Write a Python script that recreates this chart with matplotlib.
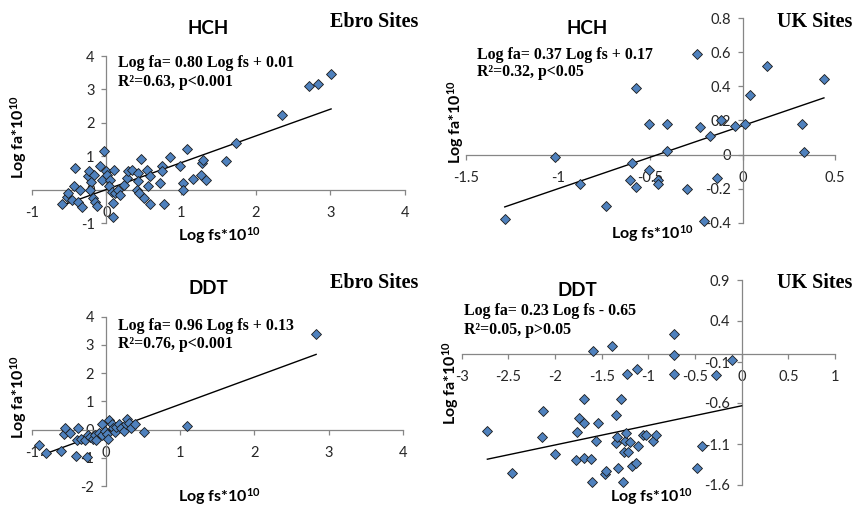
import matplotlib
matplotlib.use("Agg")
import matplotlib.pyplot as plt
import numpy as np

plt.rcParams["mathtext.fontset"] = "custom"
plt.rcParams["mathtext.rm"] = "Lato:bold"
plt.rcParams["mathtext.bf"] = "Lato:bold"
plt.rcParams["mathtext.it"] = "Lato:bold"

# ---------------- data ----------------
hch_ebro_x = [-0.60, -0.53, -0.51, -0.42, -0.44, -0.46, -0.35, -0.38, -0.33, -0.25, -0.23, -0.17,
              -0.20, -0.22, -0.18, -0.15, -0.13, -0.08, -0.06, -0.03, 0.00, 0.01, 0.05, 0.04, 0.07,
              0.09, 0.10, 0.09, 0.12, 0.16, 0.18, 0.23, 0.27, 0.29, 0.34, 0.42, 0.43, 0.41, 0.44,
              0.47, 0.50, 0.54, 0.56, 0.58, 0.58, 0.72, 0.74, 0.75, 0.77, 0.85, 0.99, 1.02, 1.02,
              1.08, 1.16, 1.27, 1.28, 1.29, 1.33, 1.60, 1.74, 2.35, 2.71, 2.83, 3.01]
hch_ebro_y = [-0.42, -0.22, -0.10, 0.65, 0.10, -0.30, 0.00, -0.35, -0.52, 0.40, 0.55, 0.45,
              0.22, 0.00, -0.25, -0.35, -0.48, 0.70, 0.30, 1.17, 0.55, 0.45, 0.30, 0.10, -0.05,
              -0.40, 0.60, -0.82, -0.10, 0.00, -0.15, 0.15, 0.35, 0.55, 0.60, 0.50, 0.25, 0.00, -0.10,
              0.92, -0.25, 0.60, 0.10, 0.40, -0.42, 0.20, 0.70, 0.55, -0.42, 0.98, 0.70, 0.20, 0.00,
              1.22, 0.33, 0.43, 0.80, 0.88, 0.30, 0.85, 1.41, 2.24, 3.10, 3.16, 3.46]

hch_uk_x = [-1.29, -1.02, -0.88, -0.74, -0.61, -0.60, -0.58, -0.58, -0.51, -0.51, -0.46, -0.46,
            -0.41, -0.41, -0.30, -0.25, -0.23, -0.21, -0.18, -0.14, -0.12, -0.04, 0.01, 0.04,
            0.13, 0.32, 0.33, 0.44]
hch_uk_y = [-0.38, -0.014, -0.175, -0.30, -0.15, -0.05, 0.39, -0.19, 0.18, -0.09, -0.15, -0.17,
            0.18, 0.02, -0.20, 0.59, 0.16, -0.39, 0.11, -0.14, 0.20, 0.17, 0.18, 0.35,
            0.52, 0.18, 0.016, 0.445]

ddt_ebro_x = [-0.90, -0.81, -0.60, -0.57, -0.55, -0.48, -0.40, -0.37, -0.39, -0.33, -0.28, -0.25,
              -0.24, -0.22, -0.18, -0.15, -0.13, -0.10, -0.06, -0.06, -0.01, 0.01, 0.03, 0.04,
              0.08, 0.10, 0.12, 0.14, 0.18, 0.20, 0.24, 0.27, 0.29, 0.31, 0.34, 0.39, 0.51, 1.09, 2.83]
ddt_ebro_y = [-0.55, -0.83, -0.76, -0.17, 0.04, -0.11, -0.93, 0.04, -0.38, -0.32, -0.38, -0.97,
              -0.18, -0.26, -0.32, -0.20, -0.38, -0.11, 0.19, -0.20, -0.06, -0.14, -0.35, 0.33,
              0.21, 0.04, -0.08, 0.09, 0.18, 0.04, -0.06, 0.18, 0.39, 0.25, 0.04, 0.18, -0.08, 0.12, 3.40]

ddt_uk_x = [-2.725, -2.46, -2.14, -2.13, -2.00, -1.775, -1.76, -1.74, -1.69, -1.69, -1.69, -1.61,
            -1.60, -1.59, -1.56, -1.54, -1.46, -1.45, -1.39, -1.35, -1.35, -1.34, -1.32, -1.29,
            -1.27, -1.26, -1.25, -1.24, -1.23, -1.22, -1.20, -1.18, -1.13, -1.125, -1.11, -1.06,
            -1.02, -0.95, -0.92, -0.73, -0.73, -0.73, -0.48, -0.42, -0.28, -0.10]
ddt_uk_y = [-0.947, -1.45, -1.02, -0.70, -1.22, -1.29, -0.95, -0.78, -0.85, -0.55, -1.27, -1.28,
            -1.565, 0.04, -1.06, -0.85, -1.46, -1.43, 0.09, -0.75, -1.09, -1.02, -1.39, -0.55,
            -1.565, -1.20, -1.06, -0.96, -0.25, -1.20, -1.08, -1.37, -1.33, -0.18, -1.12, -0.99,
            -0.99, -1.06, -0.99, 0.24, -0.01, -0.25, -1.39, -1.13, -0.26, -0.08]

# trend lines as drawn (slope, intercept, x-start, x-end)
trend_hch_ebro = (0.80, 0.01, -0.60, 3.01)
trend_hch_uk = (0.37, 0.17, -1.29, 0.44)
trend_ddt_ebro = (0.966, -0.07, -0.865, 2.83)
trend_ddt_uk = (0.239, -0.634, -2.725, 0.0)

ticks_hch_ebro = ([-1, 0, 1, 2, 3, 4], [-1, 0, 1, 2, 3, 4])
ticks_hch_uk = ([-1.5, -1, -0.5, 0, 0.5], [-0.4, -0.2, 0, 0.2, 0.4, 0.6, 0.8])
ticks_ddt_ebro = ([-1, 0, 1, 2, 3, 4], [-2, -1, 0, 1, 2, 3, 4])
ticks_ddt_uk = ([-3, -2.5, -2, -1.5, -1, -0.5, 0, 0.5, 1], [-1.6, -1.1, -0.6, -0.1, 0.4, 0.9])

titles = ["HCH", "HCH", "DDT", "DDT"]
sites = ["Ebro Sites", "UK Sites", "Ebro Sites", "UK Sites"]
equations = [["Log fa= 0.80 Log fs + 0.01", "R\u00b2=0.63, p<0.001"],
             ["Log fa= 0.37 Log fs + 0.17", "R\u00b2=0.32, p<0.05"],
             ["Log fa= 0.96 Log fs + 0.13", "R\u00b2=0.76, p<0.001"],
             ["Log fa= 0.23 Log fs - 0.65", "R\u00b2=0.05, p>0.05"]]
xlabel = r"Log fs*10$^{10}$"
ylabel = r"Log fa*10$^{10}$"

# ---------------- figure ----------------
W, H = 857, 509
fig = plt.figure(figsize=(W / 100, H / 100), dpi=100)

SANS = ["Lato", "DejaVu Sans"]
SERIF = ["Liberation Serif", "DejaVu Serif"]

def fx(px):
    return px / W

def fy(py):
    return 1 - py / H

# axes rectangles in pixel coords (left, right, top, bottom)
rects = [(31.7, 405, 56, 223.3),
         (466, 835, 18.3, 222.7),
         (31.7, 403, 316.7, 486),
         (461.7, 835, 280, 485)]

panels = [(hch_ebro_x, hch_ebro_y, trend_hch_ebro, ticks_hch_ebro),
          (hch_uk_x, hch_uk_y, trend_hch_uk, ticks_hch_uk),
          (ddt_ebro_x, ddt_ebro_y, trend_ddt_ebro, ticks_ddt_ebro),
          (ddt_uk_x, ddt_uk_y, trend_ddt_uk, ticks_ddt_uk)]

# text positions (pixels)
title_pos = [(208, 28), (587, 29), (208, 289), (577, 291)]
site_pos = [(418, 22), (852, 22), (418, 283), (852, 283)]
eq_pos = [(118, 63, 82), (477, 55, 72), (118, 326, 344), (464, 311, 330)]
ylab_pos = [(19, 137), (456, 122), (19, 397), (451, 383)]
xlab_pos = [(219, 236), (652, 234), (219, 497), (651, 497)]

AXC = "#868686"
LBL = 11.5
for i, (xs, ys, trend, ticks) in enumerate(panels):
    l, r, t, b = rects[i]
    ax = fig.add_axes([fx(l), fy(b), (r - l) / W, (b - t) / H])
    xt, yt = ticks
    ax.set_xlim(xt[0], xt[-1])
    ax.set_ylim(yt[0], yt[-1])
    ax.set_xticks(xt)
    ax.set_yticks(yt)
    ax.set_xticklabels([("%g" % v) for v in xt])
    ax.set_yticklabels([("%g" % v) for v in yt])
    ax.patch.set_alpha(0)
    for s in ["top", "right"]:
        ax.spines[s].set_visible(False)
    ax.spines["left"].set_position(("data", 0))
    ax.spines["bottom"].set_position(("data", 0))
    for s in ["left", "bottom"]:
        ax.spines[s].set_color(AXC)
        ax.spines[s].set_linewidth(0.9)
    ax.tick_params(axis="both", direction="out", length=3.5, width=0.9, color=AXC,
                   labelsize=10.5, labelcolor="#262626")
    ax.tick_params(axis="x", pad=8)
    ax.tick_params(axis="y", pad=5)
    for lab in ax.get_xticklabels() + ax.get_yticklabels():
        lab.set_family(SANS)
    slope, icpt, x0, x1 = trend
    lx = np.array([x0, x1])
    ax.plot(lx, slope * lx + icpt, color="black", lw=1.0, zorder=3)
    ax.plot(xs, ys, linestyle="none", marker="D", ms=4.6, mfc="#4F81BD",
            mec="#1a1a1a", mew=0.6, zorder=4, clip_on=False)

    tx, ty = title_pos[i]
    fig.text(fx(tx), fy(ty), titles[i], ha="center", va="center", family=SANS,
             fontweight="bold", fontsize=13.5, color="black")
    sx, sy = site_pos[i]
    fig.text(fx(sx), fy(sy), sites[i], ha="right", va="center", family=SERIF,
             fontweight="bold", fontsize=14.5, color="black")
    ex, ey1, ey2 = eq_pos[i]
    fig.text(fx(ex), fy(ey1), equations[i][0], ha="left", va="center", family=SERIF,
             fontweight="bold", fontsize=11.4, color="black")
    fig.text(fx(ex), fy(ey2), equations[i][1], ha="left", va="center", family=SERIF,
             fontweight="bold", fontsize=11.4, color="black")
    yx, yy = ylab_pos[i]
    fig.text(fx(yx), fy(yy), ylabel, ha="center", va="center", rotation=90,
             family=SANS, fontweight="bold", fontsize=LBL, color="black")
    xx, xy = xlab_pos[i]
    fig.text(fx(xx), fy(xy), xlabel, ha="center", va="center", family=SANS,
             fontweight="bold", fontsize=LBL, color="black")

fig.savefig("out.png", dpi=100)
